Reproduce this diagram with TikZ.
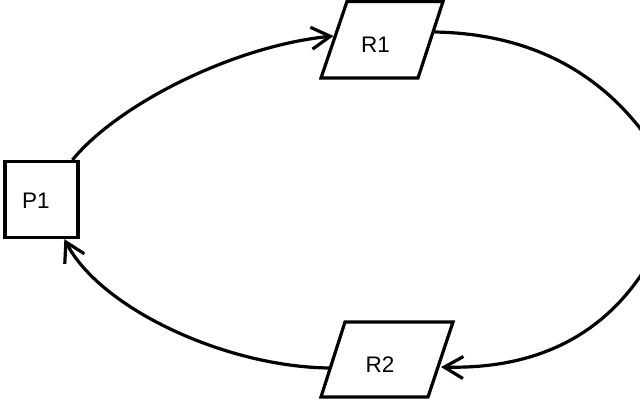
\documentclass[tikz,border=0pt]{standalone}
\usepackage{fontspec}
\setmainfont{Liberation Sans}
\usetikzlibrary{arrows.meta}
\begin{document}
\begin{tikzpicture}[x=1pt,y=-1pt,line width=3.2pt,
  place/.style={draw,rectangle,minimum width=73pt,minimum height=76pt,inner sep=0pt},
  anchorbox/.style={rectangle,inner sep=0pt,minimum width=96pt,minimum height=76pt},
  para/.style={draw,line join=miter},
  lbl/.style={text=black,font=\fontsize{22.5pt}{26pt}\selectfont,inner sep=0pt},
  arc/.style={draw,-{Straight Barb[length=19pt,width=22pt]}}]
\useasboundingbox (0,0) rectangle (640,400);
\node[place] (P1) at (41.5,199.5) {};
\node[anchorbox] (R1) at (382,39.75) {};
\node[anchorbox] (R2) at (387,359.5) {};
\node[place] (P2) at (677.6,199.5) {};
\draw[para,shift={(R1.center)}] (-61,38.25) -- (-35,-38.25) -- (61,-38.25) -- (36,38.25) -- cycle;
\draw[para,shift={(R2.center)}] (-66,37.5) -- (-42,-37.5) -- (66,-37.5) -- (41,37.5) -- cycle;
\node[lbl] (P1l) at ([xshift=-5.5pt,yshift=-1.5pt]P1.center) {P1};
\node[lbl] (R1l) at ([xshift=-6.5pt,yshift=-4.75pt]R1.center) {R1};
\node[lbl] (R2l) at ([xshift=-7pt,yshift=-5.5pt]R2.center) {R2};
\draw[arc] (P1.52) .. controls (117.5,104.8) and (233,46) .. ([shift={(-48.5,-3.75)}]R1.center);
\draw[arc] ([shift={(52.5,-7.75)}]R1.center) .. controls (560,34) and (625,100) .. (P2.112);
\draw[arc] (P2.-112) .. controls (628,310) and (565,370) .. ([shift={(54,7.5)}]R2.center);
\draw[arc] ([shift={(-57,8.5)}]R2.center) .. controls (225,367) and (100,308) .. (P1.-60);
\end{tikzpicture}
\end{document}
